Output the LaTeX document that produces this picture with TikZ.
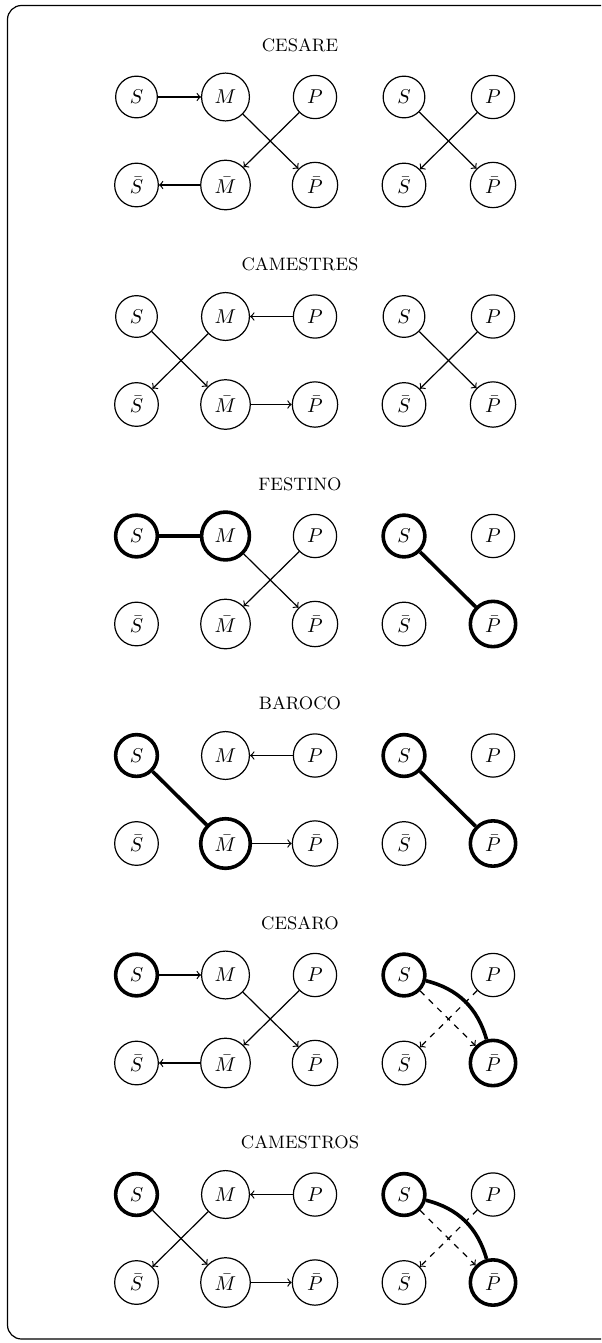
\documentclass[tikz,border=0pt]{standalone}
\newcommand\mygrid[3]{%
  \node[ttl] (#1T) at (300,#2) {#3};
  \node[vert,#1S/.try] (#1S) at (136.5,{#2+52}) {$S$};
  \node[vert,#1M/.try] (#1M) at (225.5,{#2+52}) {$M$};
  \node[vert,#1P/.try] (#1P) at (315,{#2+52}) {$P$};
  \node[vert,#1Sb/.try] (#1Sb) at (136.5,{#2+140}) {$\bar S$};
  \node[vert,#1Mb/.try] (#1Mb) at (225.5,{#2+140}) {$\bar M$};
  \node[vert,#1Pb/.try] (#1Pb) at (315,{#2+140}) {$\bar P$};
  \node[vert,#1RS/.try] (#1RS) at (404,{#2+52}) {$S$};
  \node[vert,#1RP/.try] (#1RP) at (493,{#2+52}) {$P$};
  \node[vert,#1RSb/.try] (#1RSb) at (404,{#2+140}) {$\bar S$};
  \node[vert,#1RPb/.try] (#1RPb) at (493,{#2+140}) {$\bar P$};
}
\begin{document}
\begin{tikzpicture}[x=0.5pt,y=-0.5pt,
  vert/.style={circle,draw,inner sep=4pt,line width=0.6pt},
  hot/.style={line width=1.8pt},
  ttl/.style={font=\small,inner sep=0pt},
  arr/.style={->,line width=0.6pt},
  bold/.style={line width=1.8pt},
  dsh/.style={->,dashed,line width=0.6pt},
  cS/.style=hot, cM/.style=hot, cRS/.style=hot, cRPb/.style=hot,
  dS/.style=hot, dMb/.style=hot, dRS/.style=hot, dRPb/.style=hot,
  eS/.style=hot, eRS/.style=hot, eRPb/.style=hot,
  fS/.style=hot, fRS/.style=hot, fRPb/.style=hot]
\clip (0,0) rectangle (601,1343);
\draw[line width=0.6pt,rounded corners=7pt] (7.5,5.5) rectangle (615,1339);

\mygrid{a}{45}{CESARE}
\draw[arr] (aS) -- (aM);
\draw[arr] (aM) -- (aPb);
\draw[arr] (aP) -- (aMb);
\draw[arr] (aMb) -- (aSb);
\draw[arr] (aRS) -- (aRPb);
\draw[arr] (aRP) -- (aRSb);

\mygrid{b}{264.5}{CAMESTRES}
\draw[arr] (bP) -- (bM);
\draw[arr] (bS) -- (bMb);
\draw[arr] (bM) -- (bSb);
\draw[arr] (bMb) -- (bPb);
\draw[arr] (bRS) -- (bRPb);
\draw[arr] (bRP) -- (bRSb);

\mygrid{c}{484}{FESTINO}
\draw[bold] (cS) -- (cM);
\draw[arr] (cM) -- (cPb);
\draw[arr] (cP) -- (cMb);
\draw[bold] (cRS) -- (cRPb);

\mygrid{d}{703.5}{BAROCO}
\draw[bold] (dS) -- (dMb);
\draw[arr] (dP) -- (dM);
\draw[arr] (dMb) -- (dPb);
\draw[bold] (dRS) -- (dRPb);

\mygrid{e}{923}{CESARO}
\draw[arr] (eS) -- (eM);
\draw[arr] (eM) -- (ePb);
\draw[arr] (eP) -- (eMb);
\draw[arr] (eMb) -- (eSb);
\draw[bold] (eRS) to[bend left=30] (eRPb);
\draw[dsh] (eRS) -- (eRPb);
\draw[dsh] (eRP) -- (eRSb);

\mygrid{f}{1142.5}{CAMESTROS}
\draw[arr] (fP) -- (fM);
\draw[arr] (fS) -- (fMb);
\draw[arr] (fM) -- (fSb);
\draw[arr] (fMb) -- (fPb);
\draw[bold] (fRS) to[bend left=30] (fRPb);
\draw[dsh] (fRS) -- (fRPb);
\draw[dsh] (fRP) -- (fRSb);
\end{tikzpicture}
\end{document}
